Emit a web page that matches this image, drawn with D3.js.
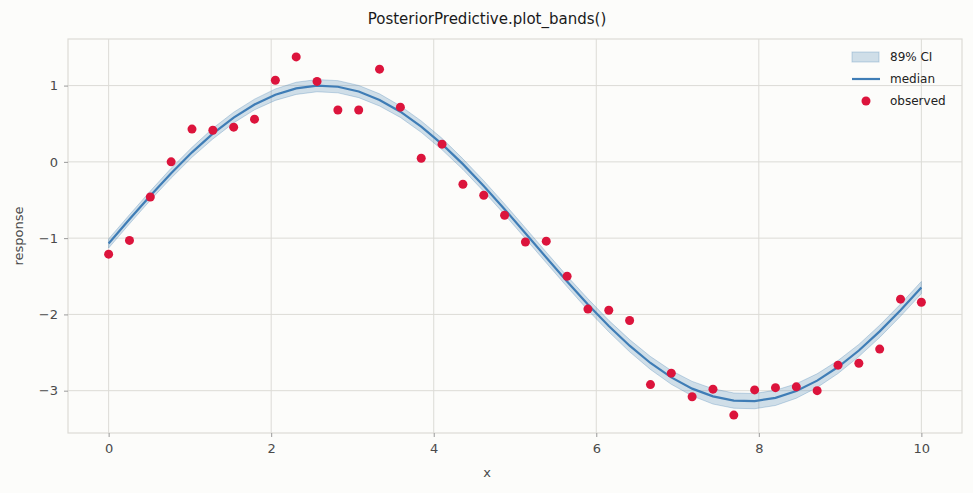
<!DOCTYPE html>
<html>
<head>
<meta charset="utf-8">
<script src="https://cdn.jsdelivr.net/npm/d3@7"></script>
<style>
  body { margin: 0; background: #fcfcfa; }
  svg { display: block; font-family: "DejaVu Sans", sans-serif; }
</style>
</head>
<body>
<svg id="chart" width="973" height="493"></svg>
<script>
// 40 evenly spaced x positions from 0 to 10
const xs = [0, 0.2564, 0.5128, 0.7692, 1.0256, 1.2821, 1.5385, 1.7949, 2.0513, 2.3077,
  2.5641, 2.8205, 3.0769, 3.3333, 3.5897, 3.8462, 4.1026, 4.359, 4.6154, 4.8718,
  5.1282, 5.3846, 5.641, 5.8974, 6.1538, 6.4103, 6.6667, 6.9231, 7.1795, 7.4359,
  7.6923, 7.9487, 8.2051, 8.4615, 8.7179, 8.9744, 9.2308, 9.4872, 9.7436, 10];

const observed = [-1.21, -1.03, -0.46, 0.0, 0.43, 0.415, 0.455, 0.56, 1.07, 1.376,
  1.055, 0.68, 0.68, 1.215, 0.717, 0.048, 0.232, -0.293, -0.437, -0.70,
  -1.05, -1.04, -1.50, -1.93, -1.945, -2.08, -2.92, -2.77, -3.08, -2.98,
  -3.32, -2.99, -2.96, -2.95, -3.00, -2.665, -2.64, -2.455, -1.80, -1.84];

const median = [-1.07, -0.753, -0.443, -0.148, 0.125, 0.37, 0.581, 0.752, 0.881, 0.964,
  0.999, 0.985, 0.922, 0.812, 0.658, 0.462, 0.233, -0.03, -0.317, -0.621,
  -0.936, -1.254, -1.568, -1.87, -2.153, -2.41, -2.637, -2.826, -2.973, -3.075,
  -3.13, -3.137, -3.094, -3.004, -2.868, -2.69, -2.473, -2.222, -1.945, -1.648];

const ciLow = [-1.13, -0.813, -0.503, -0.213, 0.06, 0.30, 0.511, 0.682, 0.806, 0.884,
  0.919, 0.905, 0.842, 0.732, 0.583, 0.387, 0.158, -0.10, -0.387, -0.691,
  -1.006, -1.324, -1.638, -1.945, -2.228, -2.49, -2.722, -2.916, -3.068, -3.175,
  -3.23, -3.237, -3.194, -3.099, -2.958, -2.775, -2.553, -2.302, -2.025, -1.728];

const ciHigh = [-1.01, -0.693, -0.383, -0.083, 0.19, 0.44, 0.651, 0.822, 0.956, 1.044,
  1.079, 1.065, 1.002, 0.892, 0.733, 0.537, 0.308, 0.04, -0.247, -0.551,
  -0.866, -1.184, -1.498, -1.795, -2.078, -2.33, -2.552, -2.736, -2.878, -2.975,
  -3.03, -3.037, -2.994, -2.909, -2.778, -2.605, -2.393, -2.142, -1.865, -1.568];

const xTicks = [0, 2, 4, 6, 8, 10];
const yTicks = [-3, -2, -1, 0, 1];
const legendLabels = ["89% CI", "median", "observed"];

const svg = d3.select("#chart");
const margin = {top: 39, right: 11, bottom: 60, left: 68};
const width = 973 - margin.left - margin.right;
const height = 493 - margin.top - margin.bottom;

const ink = "#4a4a4a";
const gridColor = "#dcdbd6";
const lineColor = "#3f7db6";
const dotColor = "#dc143c";

const data = xs.map((x, i) => ({x, obs: observed[i], med: median[i], lo: ciLow[i], hi: ciHigh[i]}));

// matplotlib style 5% margins
const xExt = d3.extent(xs);
const xPad = (xExt[1] - xExt[0]) * 0.05;
const yExt = [d3.min([...observed, ...ciLow]), d3.max([...observed, ...ciHigh])];
const yPad = (yExt[1] - yExt[0]) * 0.05;

const x = d3.scaleLinear().domain([xExt[0] - xPad, xExt[1] + xPad]).range([0, width]);
const y = d3.scaleLinear().domain([yExt[0] - yPad, yExt[1] + yPad]).range([height, 0]);

const g = svg.append("g").attr("transform", `translate(${margin.left},${margin.top})`);

// grid
g.append("g")
  .selectAll("line.vx")
  .data(xTicks)
  .join("line")
  .attr("x1", d => x(d)).attr("x2", d => x(d))
  .attr("y1", 0).attr("y2", height)
  .attr("stroke", gridColor).attr("stroke-width", 1);
g.append("g")
  .selectAll("line.hy")
  .data(yTicks)
  .join("line")
  .attr("x1", 0).attr("x2", width)
  .attr("y1", d => y(d)).attr("y2", d => y(d))
  .attr("stroke", gridColor).attr("stroke-width", 1);

// frame
g.append("rect")
  .attr("width", width).attr("height", height)
  .attr("fill", "none").attr("stroke", gridColor).attr("stroke-width", 1.2);

const fmt = d => String(d).replace("-", "\u2212");

// axes
const xAxis = g.append("g")
  .attr("transform", `translate(0,${height})`)
  .call(d3.axisBottom(x).tickValues(xTicks).tickSize(4).tickPadding(7).tickFormat(fmt));
const yAxis = g.append("g")
  .call(d3.axisLeft(y).tickValues(yTicks).tickSize(4).tickPadding(6).tickFormat(fmt));
[xAxis, yAxis].forEach(a => {
  a.select(".domain").remove();
  a.selectAll(".tick line").attr("stroke", "#9a9a9a");
  a.selectAll(".tick text")
    .attr("fill", ink)
    .style("font-size", "13px")
    .style("font-family", "DejaVu Sans, sans-serif");
});

// band
const area = d3.area()
  .x(d => x(d.x))
  .y0(d => y(d.lo))
  .y1(d => y(d.hi));
g.append("path")
  .datum(data)
  .attr("d", area)
  .attr("fill", "rgba(70,130,180,0.25)")
  .attr("stroke", "rgba(70,130,180,0.3)")
  .attr("stroke-width", 1);

// median
const line = d3.line().x(d => x(d.x)).y(d => y(d.med));
g.append("path")
  .datum(data)
  .attr("d", line)
  .attr("fill", "none")
  .attr("stroke", lineColor)
  .attr("stroke-width", 2.2);

// observed
g.append("g")
  .selectAll("circle")
  .data(data)
  .join("circle")
  .attr("cx", d => x(d.x))
  .attr("cy", d => y(d.obs))
  .attr("r", 4.5)
  .attr("fill", dotColor);

// labels
svg.append("text")
  .attr("x", 487).attr("y", 24)
  .attr("text-anchor", "middle")
  .attr("fill", "#1a1a1a")
  .style("font-size", "15px")
  .text("PosteriorPredictive.plot_bands()");

svg.append("text")
  .attr("x", margin.left + width / 2 - 28).attr("y", 477)
  .attr("text-anchor", "middle")
  .attr("fill", ink)
  .style("font-size", "13px")
  .text("x");

svg.append("text")
  .attr("transform", `translate(23,${margin.top + height / 2}) rotate(-90)`)
  .attr("text-anchor", "middle")
  .attr("fill", ink)
  .style("font-size", "13px")
  .text("response");

// legend
const leg = svg.append("g").attr("transform", "translate(852,57)");
const rowH = 22;
leg.append("rect")
  .attr("x", 0).attr("y", -5).attr("width", 27).attr("height", 10)
  .attr("fill", "rgba(70,130,180,0.25)")
  .attr("stroke", "rgba(70,130,180,0.3)");
leg.append("line")
  .attr("x1", 0).attr("x2", 28).attr("y1", rowH).attr("y2", rowH)
  .attr("stroke", lineColor).attr("stroke-width", 2.2);
leg.append("circle")
  .attr("cx", 14).attr("cy", rowH * 2).attr("r", 4.5)
  .attr("fill", dotColor);
leg.selectAll("text")
  .data(legendLabels)
  .join("text")
  .attr("x", 38)
  .attr("y", (d, i) => i * rowH)
  .attr("dy", "0.35em")
  .attr("fill", "#222")
  .style("font-size", "12px")
  .text(d => d);
</script>
</body>
</html>
